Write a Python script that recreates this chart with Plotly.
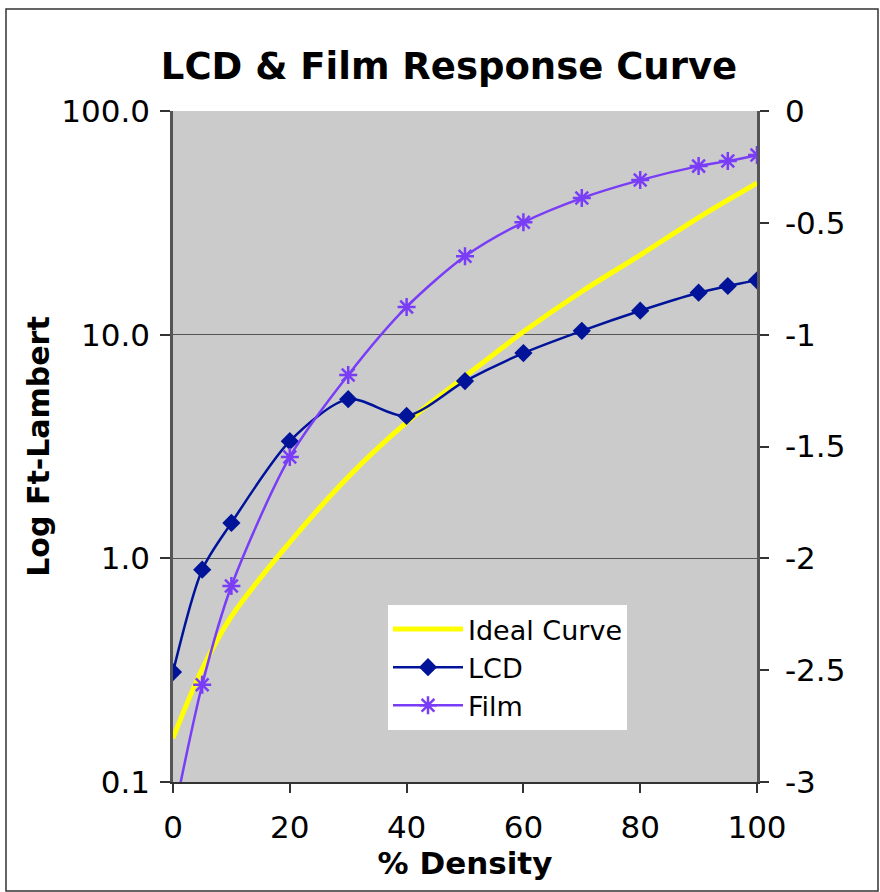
import plotly.graph_objects as go

density = [0, 5, 10, 20, 30, 40, 50, 60, 70, 80, 90, 95, 100]
ideal_x = [0, 5, 10, 20, 30, 40, 50, 60, 70, 80, 90, 100]
ideal_y = [0.157, 0.32, 0.55, 1.18, 2.31, 4.05, 6.5, 10.3, 15.6, 22.7, 33.4, 47.6]
lcd_y = [0.31, 0.89, 1.44, 3.34, 5.15, 4.33, 6.2, 8.27, 10.4, 12.8, 15.4, 16.5, 17.5]
film_y = [0.068, 0.272, 0.752, 2.84, 6.6, 13.3, 22.4, 31.8, 40.8, 49.1, 56.7, 59.7, 63.5]

left_ticks = [0.1, 1, 10, 100]
left_labels = ["0.1", "1.0", "10.0", "100.0"]
right_ticks = [-3, -2.5, -2, -1.5, -1, -0.5, 0]
right_labels = ["-3", "-2.5", "-2", "-1.5", "-1", "-0.5", "0"]
x_ticks = [0, 20, 40, 60, 80, 100]

FONT = "DejaVu Sans"
LCD_C = "#001399"
FILM_C = "#7A3DF7"

fig = go.Figure()
fig.add_trace(go.Scatter(x=ideal_x, y=ideal_y, name="Ideal Curve", mode="lines",
                         line=dict(color="#FFFF00", width=5, shape="spline", smoothing=1)))
fig.add_trace(go.Scatter(x=density, y=lcd_y, name="LCD", mode="lines+markers",
                         line=dict(color=LCD_C, width=2.5, shape="spline", smoothing=0.8),
                         marker=dict(symbol="diamond", size=14, color=LCD_C)))
fig.add_trace(go.Scatter(x=density, y=film_y, name="Film", mode="lines+markers",
                         line=dict(color=FILM_C, width=2.5, shape="spline", smoothing=0.8),
                         marker=dict(symbol="asterisk-open", size=15,
                                     line=dict(color=FILM_C, width=2.5))))
fig.add_trace(go.Scatter(x=[0, 100], y=[-3, 0], yaxis="y2", mode="lines",
                         line=dict(width=0), opacity=0, showlegend=False, hoverinfo="skip"))

fig.update_layout(
    width=880, height=892,
    margin=dict(l=173, r=123, t=111, b=110),
    paper_bgcolor="white",
    plot_bgcolor="#CBCBCB",
    font=dict(family=FONT, color="black"),
    title=dict(text="<b>LCD & Film Response Curve</b>", x=449 / 880, xanchor="center",
               y=1 - 66 / 892, yanchor="middle", font=dict(size=37, family=FONT)),
    xaxis=dict(range=[0, 100], tickvals=x_ticks, ticks="outside", ticklen=9, tickwidth=1.5,
               tickcolor="#333", showgrid=False, zeroline=False, showline=True,
               linecolor="#333", linewidth=1.5, tickfont=dict(size=31),
               ticklabelstandoff=8,
               title=dict(text="<b>% Density</b>", font=dict(size=31), standoff=2)),
    yaxis=dict(type="log", range=[-1, 2], tickvals=left_ticks, ticktext=left_labels,
               ticks="outside", ticklen=10, tickwidth=1.5, tickcolor="#333",
               showgrid=True, gridcolor="#555", gridwidth=1.2, zeroline=False,
               showline=True, linecolor="#555", linewidth=2.5, tickfont=dict(size=31),
               ticklabelstandoff=4,
               title=dict(text="<b>Log Ft-Lambert</b>", font=dict(size=30), standoff=3)),
    yaxis2=dict(overlaying="y", side="right", range=[-3, 0], tickvals=right_ticks,
                ticktext=right_labels, ticks="outside", ticklen=9, tickwidth=1.5,
                tickcolor="#333", showgrid=False, zeroline=False, showline=True,
                linecolor="#555", linewidth=2.5, tickfont=dict(size=31),
                ticklabelstandoff=10),
    legend=dict(x=(388 - 173) / 584, y=(782 - 605) / 671, xanchor="left", yanchor="top",
                bgcolor="white", font=dict(size=27, family=FONT), itemwidth=70,
                tracegroupgap=0),
    showlegend=True,
)

fig.add_shape(type="rect", xref="paper", yref="paper",
              x0=(6 - 173) / 584, x1=(878 - 173) / 584,
              y0=(782 - 891) / 671, y1=(782 - 9) / 671,
              line=dict(color="#333", width=1.5), fillcolor="rgba(0,0,0,0)", layer="below")

fig.write_html("out.html")
